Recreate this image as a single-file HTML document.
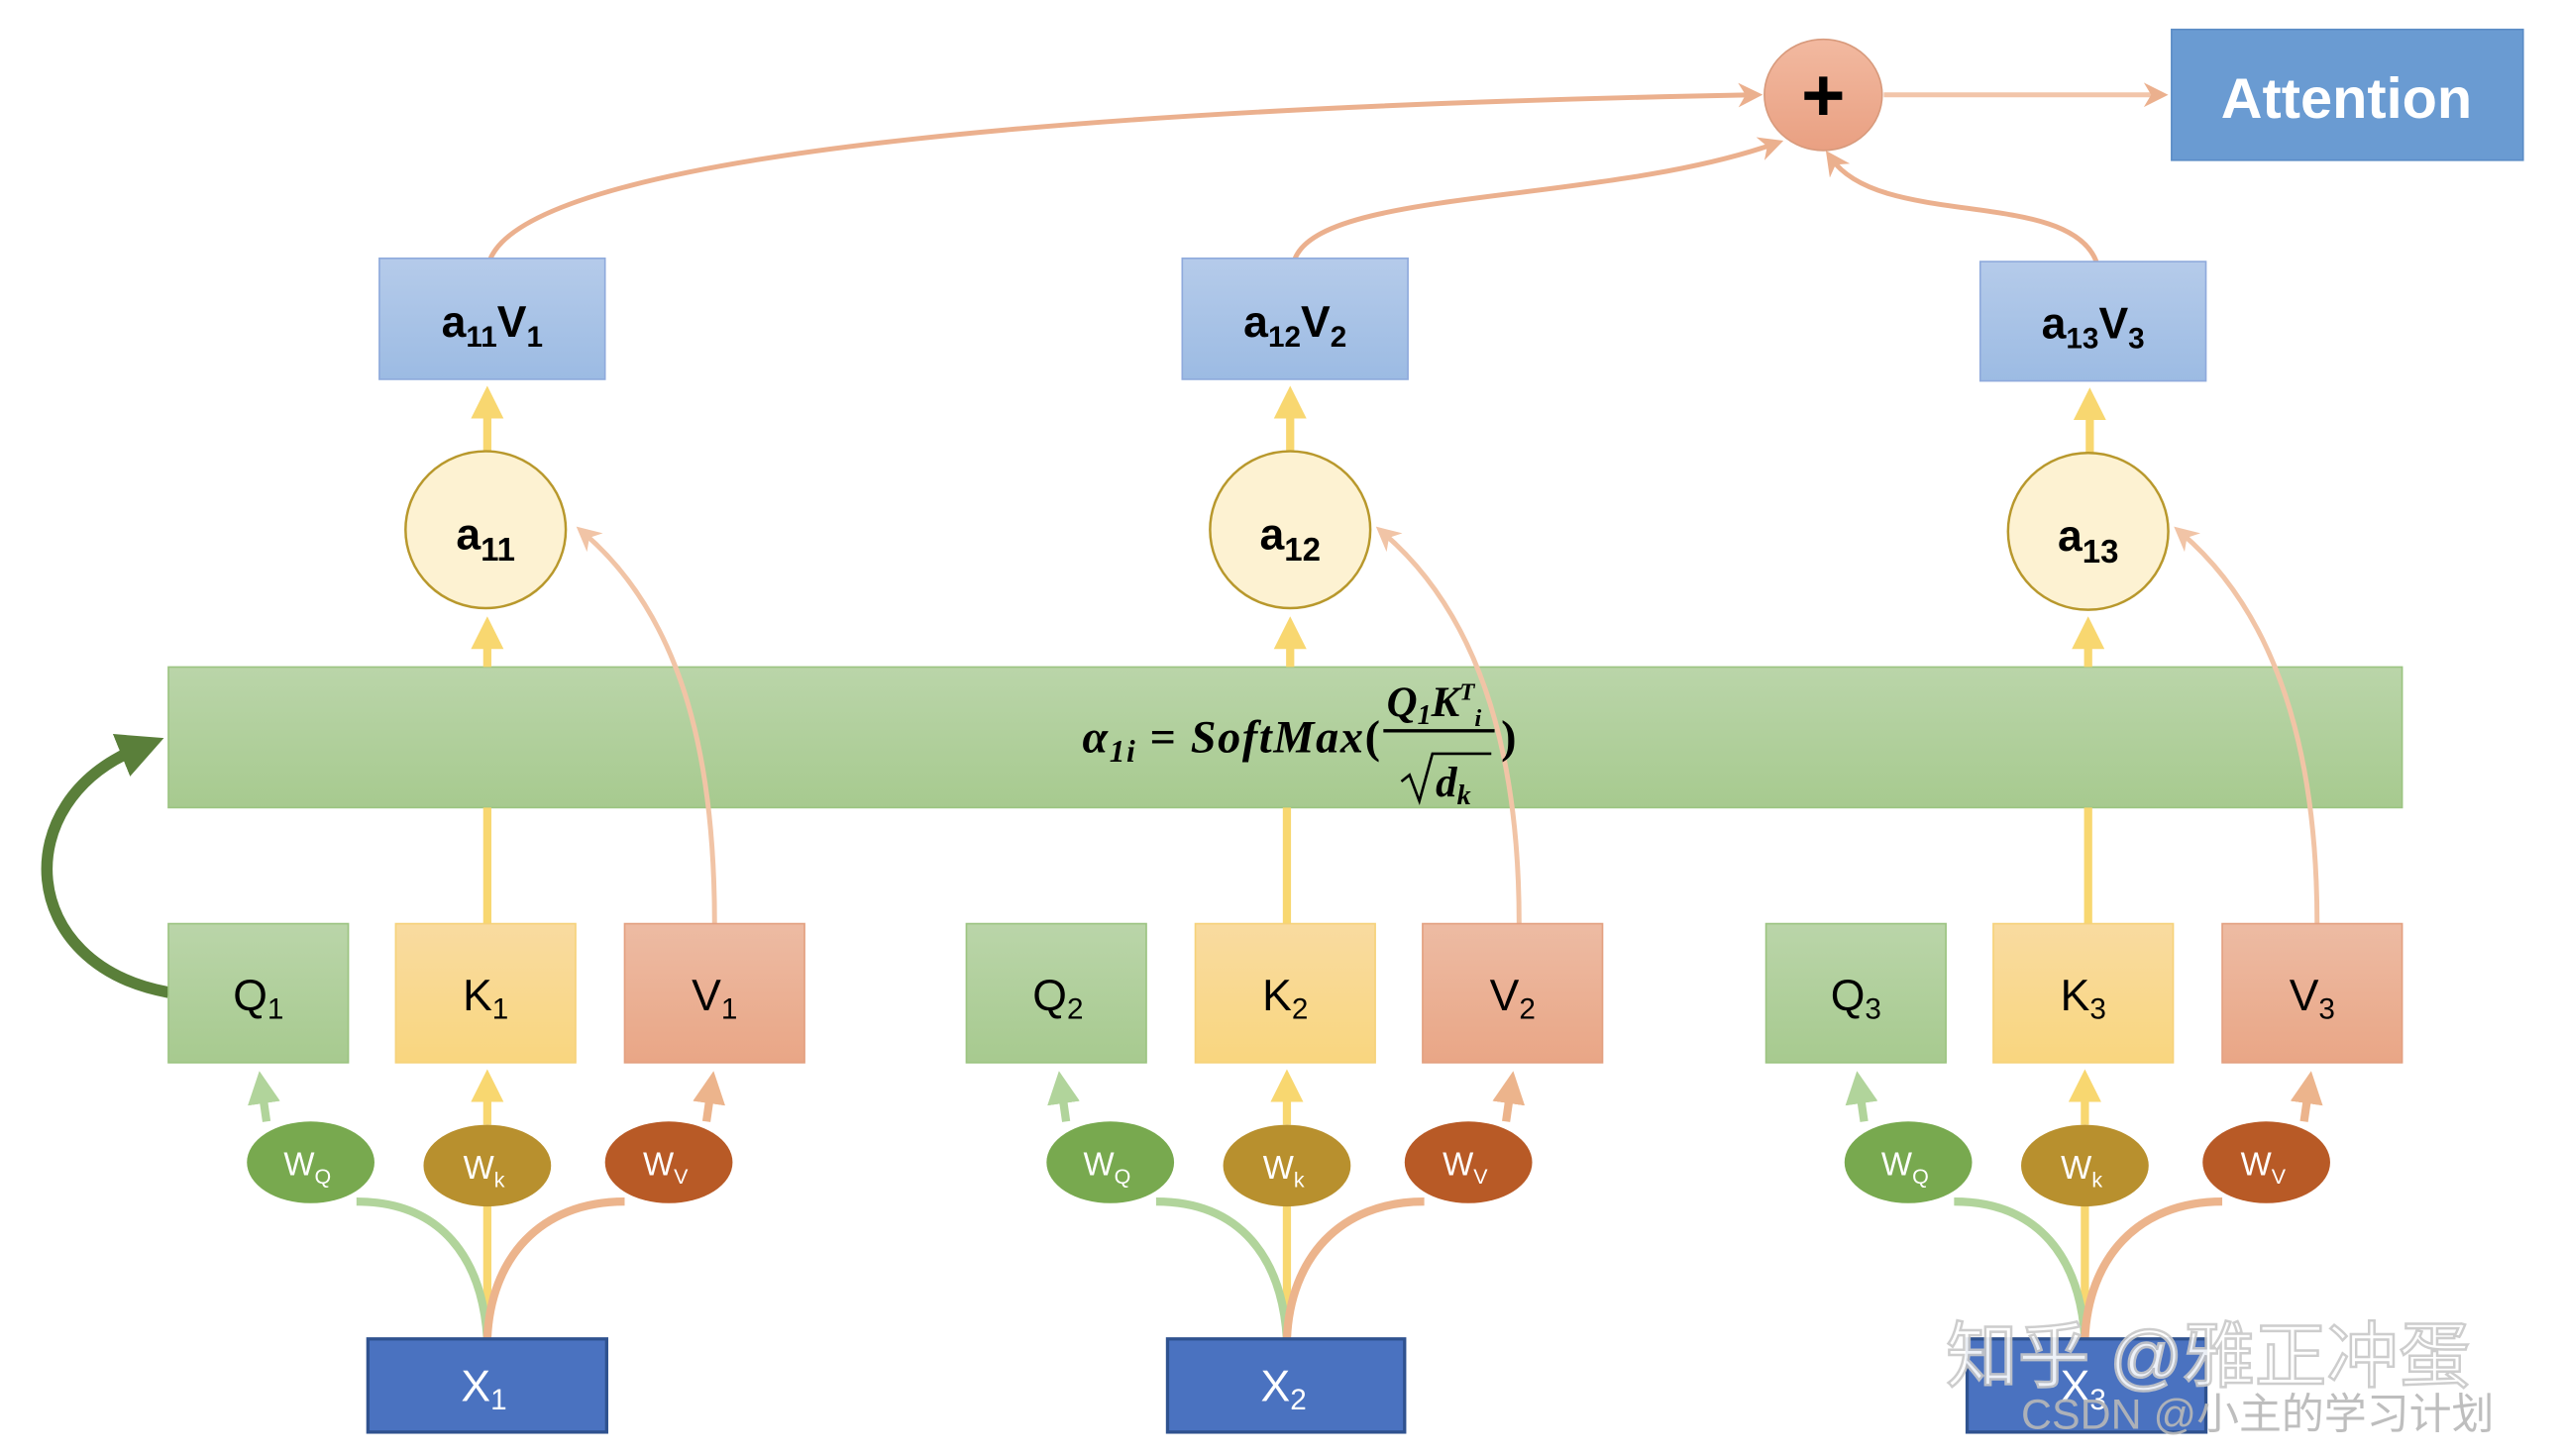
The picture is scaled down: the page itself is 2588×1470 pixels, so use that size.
<!DOCTYPE html>
<html><head><meta charset="utf-8"><style>
html,body{margin:0;padding:0;background:#fff;}
svg{display:block;}
text{font-family:"Liberation Sans","Noto Sans CJK SC",sans-serif;}
</style></head><body>
<svg width="2588" height="1470" viewBox="0 0 1568 890.6" xmlns="http://www.w3.org/2000/svg">
<defs>
<linearGradient id="gb" x1="0" y1="0" x2="0" y2="1"><stop offset="0" stop-color="#b5cbea"/><stop offset="1" stop-color="#9cbbe3"/></linearGradient>
<linearGradient id="gg" x1="0" y1="0" x2="0" y2="1"><stop offset="0" stop-color="#bad5a9"/><stop offset="1" stop-color="#a7ca8f"/></linearGradient>
<linearGradient id="gy" x1="0" y1="0" x2="0" y2="1"><stop offset="0" stop-color="#f9dba0"/><stop offset="1" stop-color="#f9d67f"/></linearGradient>
<linearGradient id="gr" x1="0" y1="0" x2="0" y2="1"><stop offset="0" stop-color="#edbba3"/><stop offset="1" stop-color="#e9a686"/></linearGradient>
<linearGradient id="gp" x1="0" y1="0" x2="0" y2="1"><stop offset="0" stop-color="#f2b9a0"/><stop offset="1" stop-color="#e9a082"/></linearGradient>
<marker id="ay" markerWidth="4" markerHeight="4" refX="2" refY="2" orient="auto" markerUnits="strokeWidth"><path d="M0,0 L4,2 L0,4z" fill="#f8d770"/></marker>
<marker id="ag" markerWidth="4" markerHeight="4" refX="2" refY="2" orient="auto" markerUnits="strokeWidth"><path d="M0,0 L4,2 L0,4z" fill="#b1d49b"/></marker>
<marker id="ao" markerWidth="4" markerHeight="4" refX="2" refY="2" orient="auto" markerUnits="strokeWidth"><path d="M0,0 L4,2 L0,4z" fill="#ecb48c"/></marker>
<marker id="ap" markerWidth="5" markerHeight="5" refX="3" refY="2.5" orient="auto" markerUnits="strokeWidth"><path d="M0,0 L5,2.5 L0,5 L1.5,2.5z" fill="#f1c4a6"/></marker>
<marker id="at" markerWidth="5" markerHeight="5" refX="3" refY="2.5" orient="auto" markerUnits="strokeWidth"><path d="M0,0 L5,2.5 L0,5 L1.5,2.5z" fill="#ebb08e"/></marker>
<marker id="adg" markerWidth="4" markerHeight="4" refX="1.5" refY="2" orient="auto" markerUnits="strokeWidth"><path d="M0,0 L4,2 L0,4z" fill="#5a7f3a"/></marker>
</defs>

<g fill="none" stroke="#ebb08e" stroke-width="3">
<path d="M300,158 C330,90 700,65 1072,58" marker-end="url(#at)"/>
<path d="M792,158 C810,115 980,125 1085,88" marker-end="url(#at)"/>
<path d="M1282,160 C1265,115 1150,140 1120,97" marker-end="url(#at)"/>
<path d="M1152,58 L1320,58" stroke="#f2c5aa" marker-end="url(#at)"/>
</g>
<ellipse cx="1115" cy="58" rx="36" ry="34" fill="url(#gp)" stroke="#d89a7c" stroke-width="1"/>
<text x="1115" y="74" font-size="46" font-weight="bold" text-anchor="middle" fill="#000">+</text>
<rect x="1328" y="18" width="215" height="80" fill="#6a9bd2" stroke="#5b8cc6"/>
<text x="1435" y="72" font-size="35" font-weight="bold" text-anchor="middle" fill="#fff">Attention</text>

<rect x="103" y="408" width="1366" height="86" fill="url(#gg)" stroke="#9cc481"/>

<path d="M103,607 C10,590 5,490 84,458" fill="none" stroke="#5a7f3a" stroke-width="7" marker-end="url(#adg)"/>

<g>
<g fill="none" stroke-width="5">
<path d="M298,819 L298,736" stroke="#f8d770"/>
<path d="M298,688 L298,664" stroke="#f8d770" marker-end="url(#ay)"/>
<path d="M298,565 L298,494" stroke="#f8d770"/>
<path d="M298,408 L298,387" stroke="#f8d770" marker-end="url(#ay)"/>
<path d="M298,276 L298,246" stroke="#f8d770" marker-end="url(#ay)"/>
<path d="M298,819 C295,770 270,735 218,735" stroke="#b1d49b"/>
<path d="M298,819 C300,770 330,735 382,735" stroke="#ecb48c"/>
<path d="M163,686 L160,665" stroke="#b1d49b" marker-end="url(#ag)"/>
<path d="M432,686 L435,665" stroke="#ecb48c" marker-end="url(#ao)"/>
</g>
<path d="M437,565 C437,470 420,380 357,326" fill="none" stroke="#f1c4a6" stroke-width="3" marker-end="url(#ap)"/>
<rect x="232" y="158" width="138" height="74" fill="url(#gb)" stroke="#8faadc"/>
<ellipse cx="297" cy="324" rx="49" ry="48" fill="#fdf2d2" stroke="#b8982c" stroke-width="1.5"/>
<rect x="103" y="565" width="110" height="85" fill="url(#gg)" stroke="#9cc481"/>
<rect x="242" y="565" width="110" height="85" fill="url(#gy)" stroke="#f6d27a"/>
<rect x="382" y="565" width="110" height="85" fill="url(#gr)" stroke="#e3a080"/>
<ellipse cx="190" cy="711" rx="39" ry="25" fill="#78a94f"/>
<ellipse cx="298" cy="713" rx="39" ry="25" fill="#b8902e"/>
<ellipse cx="409" cy="711" rx="39" ry="25" fill="#b85a26"/>
<rect x="225" y="819" width="146" height="57" fill="#4a72c0" stroke="#2f528f" stroke-width="2"/>
</g>

<g transform="translate(489,0)">
<g fill="none" stroke-width="5">
<path d="M298,819 L298,736" stroke="#f8d770"/>
<path d="M298,688 L298,664" stroke="#f8d770" marker-end="url(#ay)"/>
<path d="M298,565 L298,494" stroke="#f8d770"/>
<path d="M300,408 L300,387" stroke="#f8d770" marker-end="url(#ay)"/>
<path d="M300,276 L300,246" stroke="#f8d770" marker-end="url(#ay)"/>
<path d="M298,819 C295,770 270,735 218,735" stroke="#b1d49b"/>
<path d="M298,819 C300,770 330,735 382,735" stroke="#ecb48c"/>
<path d="M163,686 L160,665" stroke="#b1d49b" marker-end="url(#ag)"/>
<path d="M432,686 L435,665" stroke="#ecb48c" marker-end="url(#ao)"/>
</g>
<path d="M440,565 C440,470 420,380 357,326" fill="none" stroke="#f1c4a6" stroke-width="3" marker-end="url(#ap)"/>
<rect x="234" y="158" width="138" height="74" fill="url(#gb)" stroke="#8faadc"/>
<ellipse cx="300" cy="324" rx="49" ry="48" fill="#fdf2d2" stroke="#b8982c" stroke-width="1.5"/>
<rect x="102" y="565" width="110" height="85" fill="url(#gg)" stroke="#9cc481"/>
<rect x="242" y="565" width="110" height="85" fill="url(#gy)" stroke="#f6d27a"/>
<rect x="381" y="565" width="110" height="85" fill="url(#gr)" stroke="#e3a080"/>
<ellipse cx="190" cy="711" rx="39" ry="25" fill="#78a94f"/>
<ellipse cx="298" cy="713" rx="39" ry="25" fill="#b8902e"/>
<ellipse cx="409" cy="711" rx="39" ry="25" fill="#b85a26"/>
<rect x="225" y="819" width="145" height="57" fill="#4a72c0" stroke="#2f528f" stroke-width="2"/>
</g>

<g transform="translate(977,0)">
<g fill="none" stroke-width="5">
<path d="M298,819 L298,736" stroke="#f8d770"/>
<path d="M298,688 L298,664" stroke="#f8d770" marker-end="url(#ay)"/>
<path d="M300,565 L300,494" stroke="#f8d770"/>
<path d="M300,408 L300,387" stroke="#f8d770" marker-end="url(#ay)"/>
<path d="M301,277 L301,247" stroke="#f8d770" marker-end="url(#ay)"/>
<path d="M298,819 C295,770 270,735 218,735" stroke="#b1d49b"/>
<path d="M298,819 C300,770 330,735 382,735" stroke="#ecb48c"/>
<path d="M163,686 L160,665" stroke="#b1d49b" marker-end="url(#ag)"/>
<path d="M432,686 L435,665" stroke="#ecb48c" marker-end="url(#ao)"/>
</g>
<path d="M440,565 C440,470 420,380 357,326" fill="none" stroke="#f1c4a6" stroke-width="3" marker-end="url(#ap)"/>
<rect x="234" y="160" width="138" height="73" fill="url(#gb)" stroke="#8faadc"/>
<ellipse cx="300" cy="325" rx="49" ry="48" fill="#fdf2d2" stroke="#b8982c" stroke-width="1.5"/>
<rect x="103" y="565" width="110" height="85" fill="url(#gg)" stroke="#9cc481"/>
<rect x="242" y="565" width="110" height="85" fill="url(#gy)" stroke="#f6d27a"/>
<rect x="382" y="565" width="110" height="85" fill="url(#gr)" stroke="#e3a080"/>
<ellipse cx="190" cy="711" rx="39" ry="25" fill="#78a94f"/>
<ellipse cx="298" cy="713" rx="39" ry="25" fill="#b8902e"/>
<ellipse cx="409" cy="711" rx="39" ry="25" fill="#b85a26"/>
<rect x="226" y="819" width="146" height="57" fill="#4a72c0" stroke="#2f528f" stroke-width="2"/>
</g>

<g font-weight="bold" font-size="27" fill="#000" text-anchor="middle">
<text x="301" y="206">a<tspan font-size="18" dy="6">11</tspan><tspan dy="-6">V</tspan><tspan font-size="18" dy="6">1</tspan></text>
<text x="792" y="206">a<tspan font-size="18" dy="6">12</tspan><tspan dy="-6">V</tspan><tspan font-size="18" dy="6">2</tspan></text>
<text x="1280" y="207">a<tspan font-size="18" dy="6">13</tspan><tspan dy="-6">V</tspan><tspan font-size="18" dy="6">3</tspan></text>
<text x="297" y="336">a<tspan font-size="20" dy="7">11</tspan></text>
<text x="789" y="336">a<tspan font-size="20" dy="7">12</tspan></text>
<text x="1277" y="337">a<tspan font-size="20" dy="7">13</tspan></text>
</g>
<g font-size="27" fill="#000" text-anchor="middle">
<text x="158" y="618">Q<tspan font-size="18" dy="5">1</tspan></text>
<text x="297" y="618">K<tspan font-size="18" dy="5">1</tspan></text>
<text x="437" y="618">V<tspan font-size="18" dy="5">1</tspan></text>
<text x="647" y="618">Q<tspan font-size="18" dy="5">2</tspan></text>
<text x="786" y="618">K<tspan font-size="18" dy="5">2</tspan></text>
<text x="925" y="618">V<tspan font-size="18" dy="5">2</tspan></text>
<text x="1135" y="618">Q<tspan font-size="18" dy="5">3</tspan></text>
<text x="1274" y="618">K<tspan font-size="18" dy="5">3</tspan></text>
<text x="1414" y="618">V<tspan font-size="18" dy="5">3</tspan></text>
</g>
<g font-size="20" fill="#fff" text-anchor="middle">
<text x="188" y="719">W<tspan font-size="13" dy="5">Q</tspan></text>
<text x="296" y="721">W<tspan font-size="13" dy="5">k</tspan></text>
<text x="407" y="719">W<tspan font-size="13" dy="5">V</tspan></text>
<text x="677" y="719">W<tspan font-size="13" dy="5">Q</tspan></text>
<text x="785" y="721">W<tspan font-size="13" dy="5">k</tspan></text>
<text x="896" y="719">W<tspan font-size="13" dy="5">V</tspan></text>
<text x="1165" y="719">W<tspan font-size="13" dy="5">Q</tspan></text>
<text x="1273" y="721">W<tspan font-size="13" dy="5">k</tspan></text>
<text x="1384" y="719">W<tspan font-size="13" dy="5">V</tspan></text>
</g>
<g font-size="27" fill="#fff" text-anchor="middle">
<text x="296" y="857">X<tspan font-size="18" dy="5">1</tspan></text>
<text x="785" y="857">X<tspan font-size="18" dy="5">2</tspan></text>
<text x="1274" y="857">X<tspan font-size="18" dy="5">3</tspan></text>
</g>

<g fill="#000">
<text x="845" y="460" font-size="28" text-anchor="end" style="font-family:'Liberation Serif',serif;font-style:italic;font-weight:bold;letter-spacing:1px">α<tspan font-size="19" dy="6">1i</tspan><tspan dy="-6" style="font-style:normal"> = </tspan>SoftMax<tspan style="font-style:normal">(</tspan></text>
<text x="848" y="438" font-size="26" style="font-family:'Liberation Serif',serif;font-style:italic;font-weight:bold">Q<tspan font-size="17" dy="5">1</tspan><tspan dy="-5">K</tspan><tspan font-size="15" dy="-10">T</tspan><tspan font-size="15" dy="16">i</tspan></text>
<line x1="846" y1="447" x2="914" y2="447" stroke="#000" stroke-width="2"/>
<path d="M857,478 L862,474 L868,490 L876,461 L912,461" fill="none" stroke="#000" stroke-width="1.6"/>
<text x="878" y="487" font-size="26" style="font-family:'Liberation Serif',serif;font-style:italic;font-weight:bold">d<tspan font-size="17" dy="5">k</tspan></text>
<text x="918" y="460" font-size="28" style="font-family:'Liberation Serif',serif;font-weight:bold">)</text>
</g>

<text x="1190" y="845" font-size="44" fill="#fff" stroke="#c8c8c8" stroke-width="1.5" opacity="0.9">知乎 @雅正冲蛋</text>
<text x="1236" y="874" font-size="26" fill="#b8b8b8" opacity="0.9">CSDN @小主的学习计划</text>
</svg>
</body></html>
